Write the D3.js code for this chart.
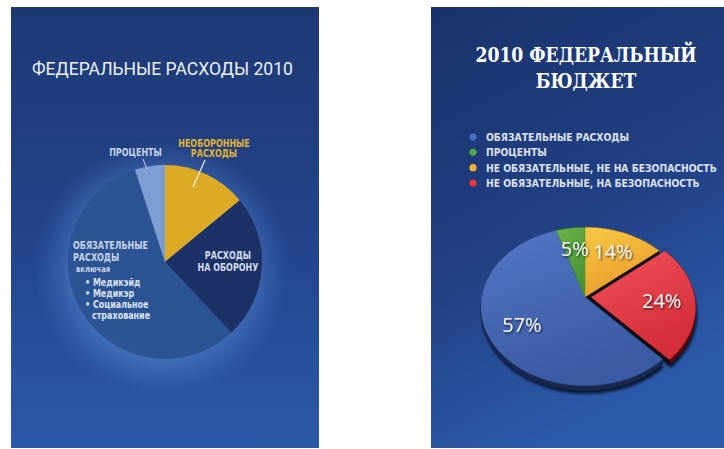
<!DOCTYPE html>
<html>
<head>
<meta charset="utf-8">
<script src="https://cdn.jsdelivr.net/npm/d3@7"></script>
<style>
  html, body { margin: 0; padding: 0; background: #ffffff; }
  svg { display: block; }
</style>
</head>
<body>
<svg id="chart" width="724" height="449"></svg>
<script>
// Shares of the 2010 federal budget, clockwise from 12 o'clock
const shares = [14, 24, 57, 5];

// Left chart: category names
const leftCategories = ["Необоронные расходы", "Расходы на оборону", "Обязательные расходы", "Проценты"];
// Right chart: legend labels (legend order) and slice order
const legendLabels = ["ОБЯЗАТЕЛЬНЫЕ РАСХОДЫ", "ПРОЦЕНТЫ", "НЕ ОБЯЗАТЕЛЬНЫЕ, НЕ НА БЕЗОПАСНОСТЬ", "НЕ ОБЯЗАТЕЛЬНЫЕ, НА БЕЗОПАСНОСТЬ"];
const rightCategories = ["НЕ ОБЯЗАТЕЛЬНЫЕ, НЕ НА БЕЗОПАСНОСТЬ", "НЕ ОБЯЗАТЕЛЬНЫЕ, НА БЕЗОПАСНОСТЬ", "ОБЯЗАТЕЛЬНЫЕ РАСХОДЫ", "ПРОЦЕНТЫ"];
const mandatoryItems = ["Медикэйд", "Медикэр", "Социальное"];

const svg = d3.select("#chart");
const defs = svg.append("defs");

// ---------- backgrounds ----------
function vGrad(id, stops, x2 = "0", y2 = "1") {
  const g = defs.append("linearGradient").attr("id", id)
    .attr("x1", 0).attr("y1", 0).attr("x2", x2).attr("y2", y2);
  stops.forEach(([o, c]) => g.append("stop").attr("offset", o).attr("stop-color", c));
}
vGrad("bgL", [[0, "#1e3874"], [0.5, "#22448a"], [1, "#2b59a7"]]);
vGrad("bgR", [[0, "#1b336c"], [0.55, "#213f82"], [1, "#2b5aa9"]], "0.35", "1");

svg.append("rect").attr("x", 11).attr("y", 7).attr("width", 308).attr("height", 441).attr("fill", "url(#bgL)");
svg.append("rect").attr("x", 431).attr("y", 7).attr("width", 293).attr("height", 441).attr("fill", "url(#bgR)");

// narrow text horizontally around its anchor point
const condFont = "'DejaVu Sans', sans-serif";
function narrowText(parent, x, y, t, ratio) {
  return parent.append("text")
    .attr("transform", `translate(${x},${y}) scale(${ratio},1)`)
    .text(t);
}

// ================= LEFT: flat pie =================
const L = { cx: 165, cy: 262, r: 97 };
const leftColors = d3.scaleOrdinal().domain(leftCategories)
  .range(["#dcaa24", "#1c3266", "#2c5393", "#7d9ed2"]);

// soft halo behind the pie
const halo = defs.append("radialGradient").attr("id", "halo");
[[0, "rgba(120,170,240,0.30)"], [0.72, "rgba(120,175,245,0.30)"], [0.8, "rgba(110,165,240,0.22)"], [1, "rgba(90,140,220,0)"]]
  .forEach(([o, c]) => halo.append("stop").attr("offset", o).attr("stop-color", c));
svg.append("circle").attr("cx", L.cx - 3).attr("cy", L.cy + 6).attr("r", 128).attr("fill", "url(#halo)");

const pieL = d3.pie().sort(null).value(d => d.v)(leftCategories.map((c, i) => ({ c, v: shares[i] })));
const arcL = d3.arc().innerRadius(0).outerRadius(L.r);
const gL = svg.append("g").attr("transform", `translate(${L.cx},${L.cy})`);
gL.selectAll("path").data(pieL).join("path")
  .attr("d", arcL)
  .attr("fill", d => leftColors(d.data.c));

narrowText(svg, 32, 75, "ФЕДЕРАЛЬНЫЕ РАСХОДЫ 2010", 1)
  .attr("font-family", "Roboto, 'Open Sans', sans-serif").attr("font-size", 18)
  .attr("fill", "#eef1f8")
  .each(function () {
    const w = this.getComputedTextLength();
    d3.select(this).attr("transform", `translate(32,75) scale(${261 / w},1)`);
  });

function lbl(x, y, t, fill, anchor = "start", size = 10) {
  return narrowText(svg, x, y, t, 0.8)
    .attr("font-family", condFont)
    .attr("font-size", size).attr("font-weight", "bold")
    .attr("fill", fill).attr("text-anchor", anchor);
}
// labels
lbl(135.5, 156, "ПРОЦЕНТЫ", "#c9d3ea", "middle");
lbl(214, 147, "НЕОБОРОННЫЕ", "#e2b334", "middle");
lbl(214, 157, "РАСХОДЫ", "#e2b334", "middle");
lbl(228, 259, "РАСХОДЫ", "#d5ddef", "middle");
lbl(228, 271, "НА ОБОРОНУ", "#d5ddef", "middle");
lbl(73, 249, "ОБЯЗАТЕЛЬНЫЕ", "#c9d3ea");
lbl(73, 261, "РАСХОДЫ", "#c9d3ea");
lbl(76, 272, "включая", "#c9d3ea", "start", 8.5);
mandatoryItems.forEach((t, i) => {
  lbl(85, 286 + i * 11, "• " + t, "#dce3f2");
});
lbl(92, 319, "страхование", "#dce3f2");

// leader lines
svg.append("line").attr("x1", 143).attr("y1", 159).attr("x2", 147).attr("y2", 169)
  .attr("stroke", "#c9d3ea").attr("stroke-width", 1);
svg.append("line").attr("x1", 205).attr("y1", 160).attr("x2", 193).attr("y2", 187)
  .attr("stroke", "#f0f0f0").attr("stroke-width", 1.2);

// ================= RIGHT: perspective pie =================
const P = { cx: 585, cy: 297, F: 565, D: 5.47, tilt: 49 * Math.PI / 180, depth: 5 };
const cosT = Math.cos(P.tilt), sinT = Math.sin(P.tilt);
// disk coordinates (X right, V toward viewer) -> screen
function proj(X, V) {
  const z = P.D - V * cosT;
  return [P.cx + P.F * X / z, P.cy + P.F * sinT * V / z];
}
function diskPt(a, rho, off) {
  return [rho * Math.sin(a) + off[0], -rho * Math.cos(a) + off[1]];
}

const rightColors = d3.scaleOrdinal().domain(rightCategories)
  .range([["#f6ca44", "#e99c2c", "#6a4a0e"], ["#f0525a", "#d42e38", "#5a0c10"],
          ["#5277c4", "#3a5aa2", "#1a2850"], ["#6cb24a", "#469435", "#173a12"]]);
const explode = { "НЕ ОБЯЗАТЕЛЬНЫЕ, НА БЕЗОПАСНОСТЬ": 0.06 };

const pieR = d3.pie().sort(null).value(d => d.v)(rightCategories.map((c, i) => ({ c, v: shares[i] })));
pieR.forEach(d => {
  const e = explode[d.data.c] || 0;
  const m = (d.startAngle + d.endAngle) / 2;
  const off = [e * Math.sin(m), -e * Math.cos(m)];
  const n = Math.max(4, Math.ceil((d.endAngle - d.startAngle) / 0.03));
  const pts = [proj(...off)];
  for (let i = 0; i <= n; i++) {
    const a = d.startAngle + (d.endAngle - d.startAngle) * i / n;
    pts.push(proj(...diskPt(a, 1, off)));
  }
  d.pts = pts;
  d.off = off;
});

const line = d3.line();
const shift = (pts, dx, dy) => pts.map(p => [p[0] + dx, p[1] + dy]);

// drop shadow
const blur = defs.append("filter").attr("id", "blur").attr("x", "-10%").attr("y", "-10%").attr("width", "120%").attr("height", "130%");
blur.append("feGaussianBlur").attr("stdDeviation", 1.6);
const gR = svg.append("g");
gR.append("g").attr("filter", "url(#blur)").selectAll("path").data(pieR).join("path")
  .attr("d", d => line(shift(d.pts, 1.5, P.depth + 3)) + "Z")
  .attr("fill", "#04081a").attr("opacity", 0.9);

// side walls
pieR.forEach(d => {
  const col = rightColors(d.data.c);
  const g = gR.append("g");
  const pts = d.pts;
  g.append("path").attr("d", line(shift(pts, 0, P.depth)) + "Z").attr("fill", col[2]);
  for (let i = 0; i < pts.length; i++) {
    const p = pts[i], q = pts[(i + 1) % pts.length];
    const cut = i === 0 || i === pts.length - 1;
    g.append("path")
      .attr("d", line([p, q, [q[0], q[1] + P.depth], [p[0], p[1] + P.depth]]) + "Z")
      .attr("fill", cut ? "#0a0d18" : col[2])
      .attr("stroke", cut ? "#0a0d18" : col[2]).attr("stroke-width", 0.6);
  }
});

// top faces
pieR.forEach((d, i) => {
  const col = rightColors(d.data.c);
  const gid = "top" + i;
  vGrad(gid, [[0, col[0]], [1, col[1]]], "0.4", "1");
  gR.append("path").attr("d", line(d.pts) + "Z")
    .attr("fill", `url(#${gid})`)
    .attr("stroke", col[1]).attr("stroke-width", 0.5);
});

// percent labels
const lblShadow = defs.append("filter").attr("id", "tshadow").attr("x", "-20%").attr("y", "-20%").attr("width", "150%").attr("height", "150%");
lblShadow.append("feDropShadow").attr("dx", 1).attr("dy", 1.2).attr("stdDeviation", 0.8)
  .attr("flood-color", "#000000").attr("flood-opacity", 0.75);
pieR.forEach(d => {
  const m = (d.startAngle + d.endAngle) / 2;
  const [x, y] = proj(...diskPt(m, 0.68, d.off));
  svg.append("text").attr("x", x).attr("y", y + 7)
    .attr("text-anchor", "middle")
    .attr("font-family", "'Open Sans', Lato, sans-serif").attr("font-size", 20)
    .attr("fill", "#f2f2f4").attr("filter", "url(#tshadow)")
    .text(Math.round(d.value) + "%");
});

// title
const serif = "'DejaVu Serif', 'Liberation Serif', serif";
const titleLines = ["2010 ФЕДЕРАЛЬНЫЙ", "БЮДЖЕТ"];
titleLines.forEach((t, i) => {
  narrowText(svg, 586, 62 + i * 26, t, 0.86)
    .attr("text-anchor", "middle")
    .attr("font-family", serif).attr("font-weight", "bold").attr("font-size", 20)
    .attr("fill", "#ffffff");
});

// legend
const legendColors = d3.scaleOrdinal().domain(legendLabels)
  .range(["#4b6fbf", "#4fa94a", "#f2b234", "#e8383d"]);
const ly = d3.scalePoint().domain(legendLabels).range([137, 183]);
const lg = svg.append("g");
lg.selectAll("circle").data(legendLabels).join("circle")
  .attr("cx", 473).attr("cy", d => ly(d)).attr("r", 3.6).attr("fill", d => legendColors(d));
const legendTexts = legendLabels.map(t =>
  narrowText(lg, 486, ly(t) + 4, t, 1)
    .attr("font-family", condFont)
    .attr("font-weight", "bold").attr("font-size", 11)
    .attr("fill", "#dfe2f2"));
// fit the longest entry to the space left of the panel edge
const maxW = d3.max(legendTexts, s => s.node().getComputedTextLength());
legendTexts.forEach(s => {
  const t = s.text();
  s.attr("transform", `translate(486,${ly(t) + 4}) scale(${231 / maxW},1)`);
});
</script>
</body>
</html>
